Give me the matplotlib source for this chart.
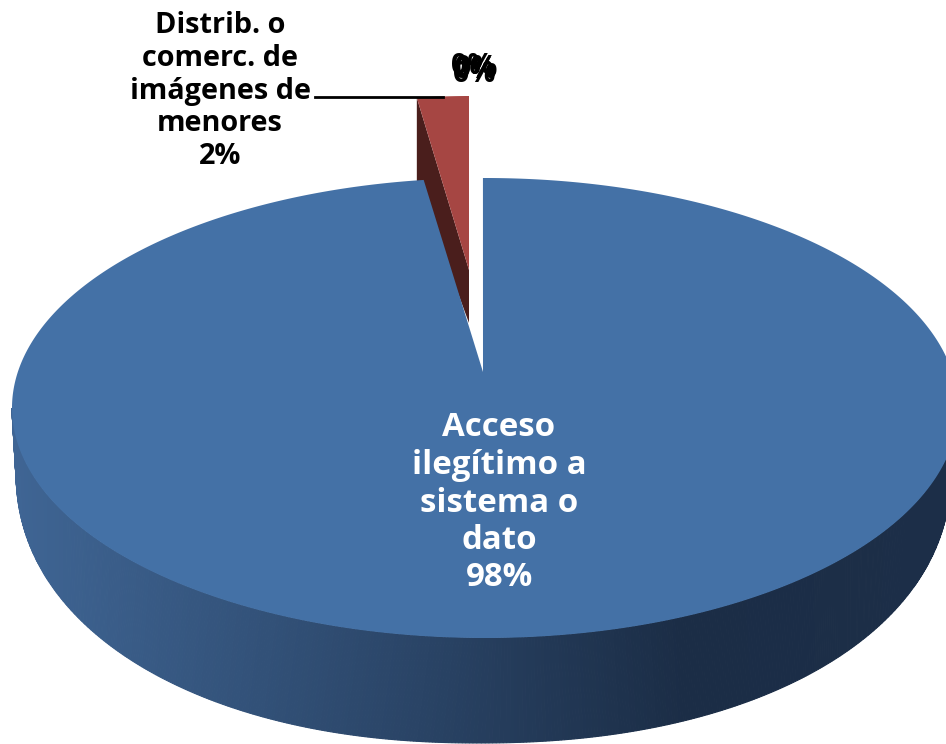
import numpy as np
import matplotlib
matplotlib.use('Agg')
import matplotlib.pyplot as plt
from matplotlib.colors import LinearSegmentedColormap

# ----------------------------------------------------------------------------
# chart data
# ----------------------------------------------------------------------------
categories = ['Acceso\nilegítimo a\nsistema o\ndato', 'Distrib. o\ncomerc. de\nimágenes de\nmenores']
main_shares = [98, 2]
zero_shares = [0, 0, 0, 0]

# projection of the pie, in pixels of the figure
cx, cy, rx, ry = 485, 408, 473, 230
low_cx, low_cy, low_ry = 479, 470, 273
low_rx_left, low_rx_right = 463, 472
low_power = 2.15
apex = (483, 372)
start_deg = -0.25
red_scale, red_dx, red_dy = 0.88, -16, -82
red_apex = (469, 270)
red_apex_low = (469, 323)
red_rim_drop = 84

blue = '#4471a6'
red = '#a64643'
red_dark = '#4a1e1c'
wall_cmap = LinearSegmentedColormap.from_list('wall', [(0, '#3f6594'), (0.72, '#1b2d46'), (1, '#1c2e48')])


def rim(theta):
  return cx + rx * np.sin(theta), cy - ry * np.cos(theta)


def low_rim(theta):
  # the lower edge is a little squarer than an ellipse because of the perspective
  s, c = np.sin(theta), np.cos(theta)
  sx = np.sign(s) * np.abs(s) ** (2 / low_power)
  sy = np.sign(c) * np.abs(c) ** (2 / low_power)
  return low_cx + (low_rx_right if s > 0 else low_rx_left) * sx, low_cy - low_ry * sy


if __name__ == '__main__':
  fig = plt.figure(figsize=(9.46, 7.44), dpi=100)
  ax = fig.add_axes([0, 0, 1, 1])
  ax.set_xlim(0, 946)
  ax.set_ylim(744, 0)
  ax.axis('off')

  total = sum(main_shares) + sum(zero_shares)
  blue_sweep = 2 * np.pi * main_shares[0] / total
  red_sweep = 2 * np.pi * main_shares[1] / total
  start = np.radians(start_deg)

  # ---- wall of the big slice, one thin strip per step so the shade follows x
  angles = np.linspace(np.pi / 2, 3 * np.pi / 2, 500)
  for a, b in zip(angles[:-1], angles[1:]):
    xa, ya = rim(a)
    xb, yb = rim(b)
    xc, yc = low_rim(b)
    xd, yd = low_rim(a)
    shade = wall_cmap(np.clip(((xc + xd) / 2 - 15) / 931, 0, 1))
    ax.fill([xa, xb, xc, xd], [ya, yb, yc, yd], color=shade, lw=0.8, zorder=1)

  # ---- small slice pulled out of the pie
  red_t = np.linspace(-red_sweep, 0, 30)
  red_x = cx + (rim(red_t)[0] - cx) * red_scale + red_dx
  red_y = rim(red_t)[1] + red_dy
  ax.fill([red_x[0], red_apex_low[0], red_apex[0], red_x[0]],
          [red_y[0] + red_rim_drop, red_apex_low[1], red_apex[1], red_y[0]],
          color=red_dark, lw=0, zorder=2)
  ax.fill(np.r_[red_apex[0], red_x], np.r_[red_apex[1], red_y], color=red, lw=0, zorder=3)

  # ---- top of the big slice
  blue_t = np.linspace(start, start + blue_sweep, 700)
  top_x, top_y = rim(blue_t)
  ax.fill(np.r_[apex[0], top_x], np.r_[apex[1], top_y], color=blue, lw=0, zorder=4)

  # ---- labels
  ax.text(499, 503, '%s\n%d%%' % (categories[0], main_shares[0]), color='white', fontsize=23.8,
          fontweight='bold', family='Open Sans', ha='center', va='center', linespacing=1.18, zorder=6)
  ax.text(220, 91, '%s\n%d%%' % (categories[1], main_shares[1]), color='black', fontsize=20.8,
          fontweight='bold', family='Open Sans', ha='center', va='center', linespacing=1.16, zorder=6)
  ax.plot([315, 443], [97, 97], color='black', lw=2, zorder=5)
  for v, dx, dy in zip(zero_shares, [-2, 0, 1, 2], [-5, 4, 0, -3]):
    ax.text(474 + dx, 71 + dy, '%d%%' % v, color='black', fontsize=20.8, fontweight='bold',
            family='Open Sans', ha='center', va='center', zorder=6)

  fig.savefig('out.png', dpi=100)
